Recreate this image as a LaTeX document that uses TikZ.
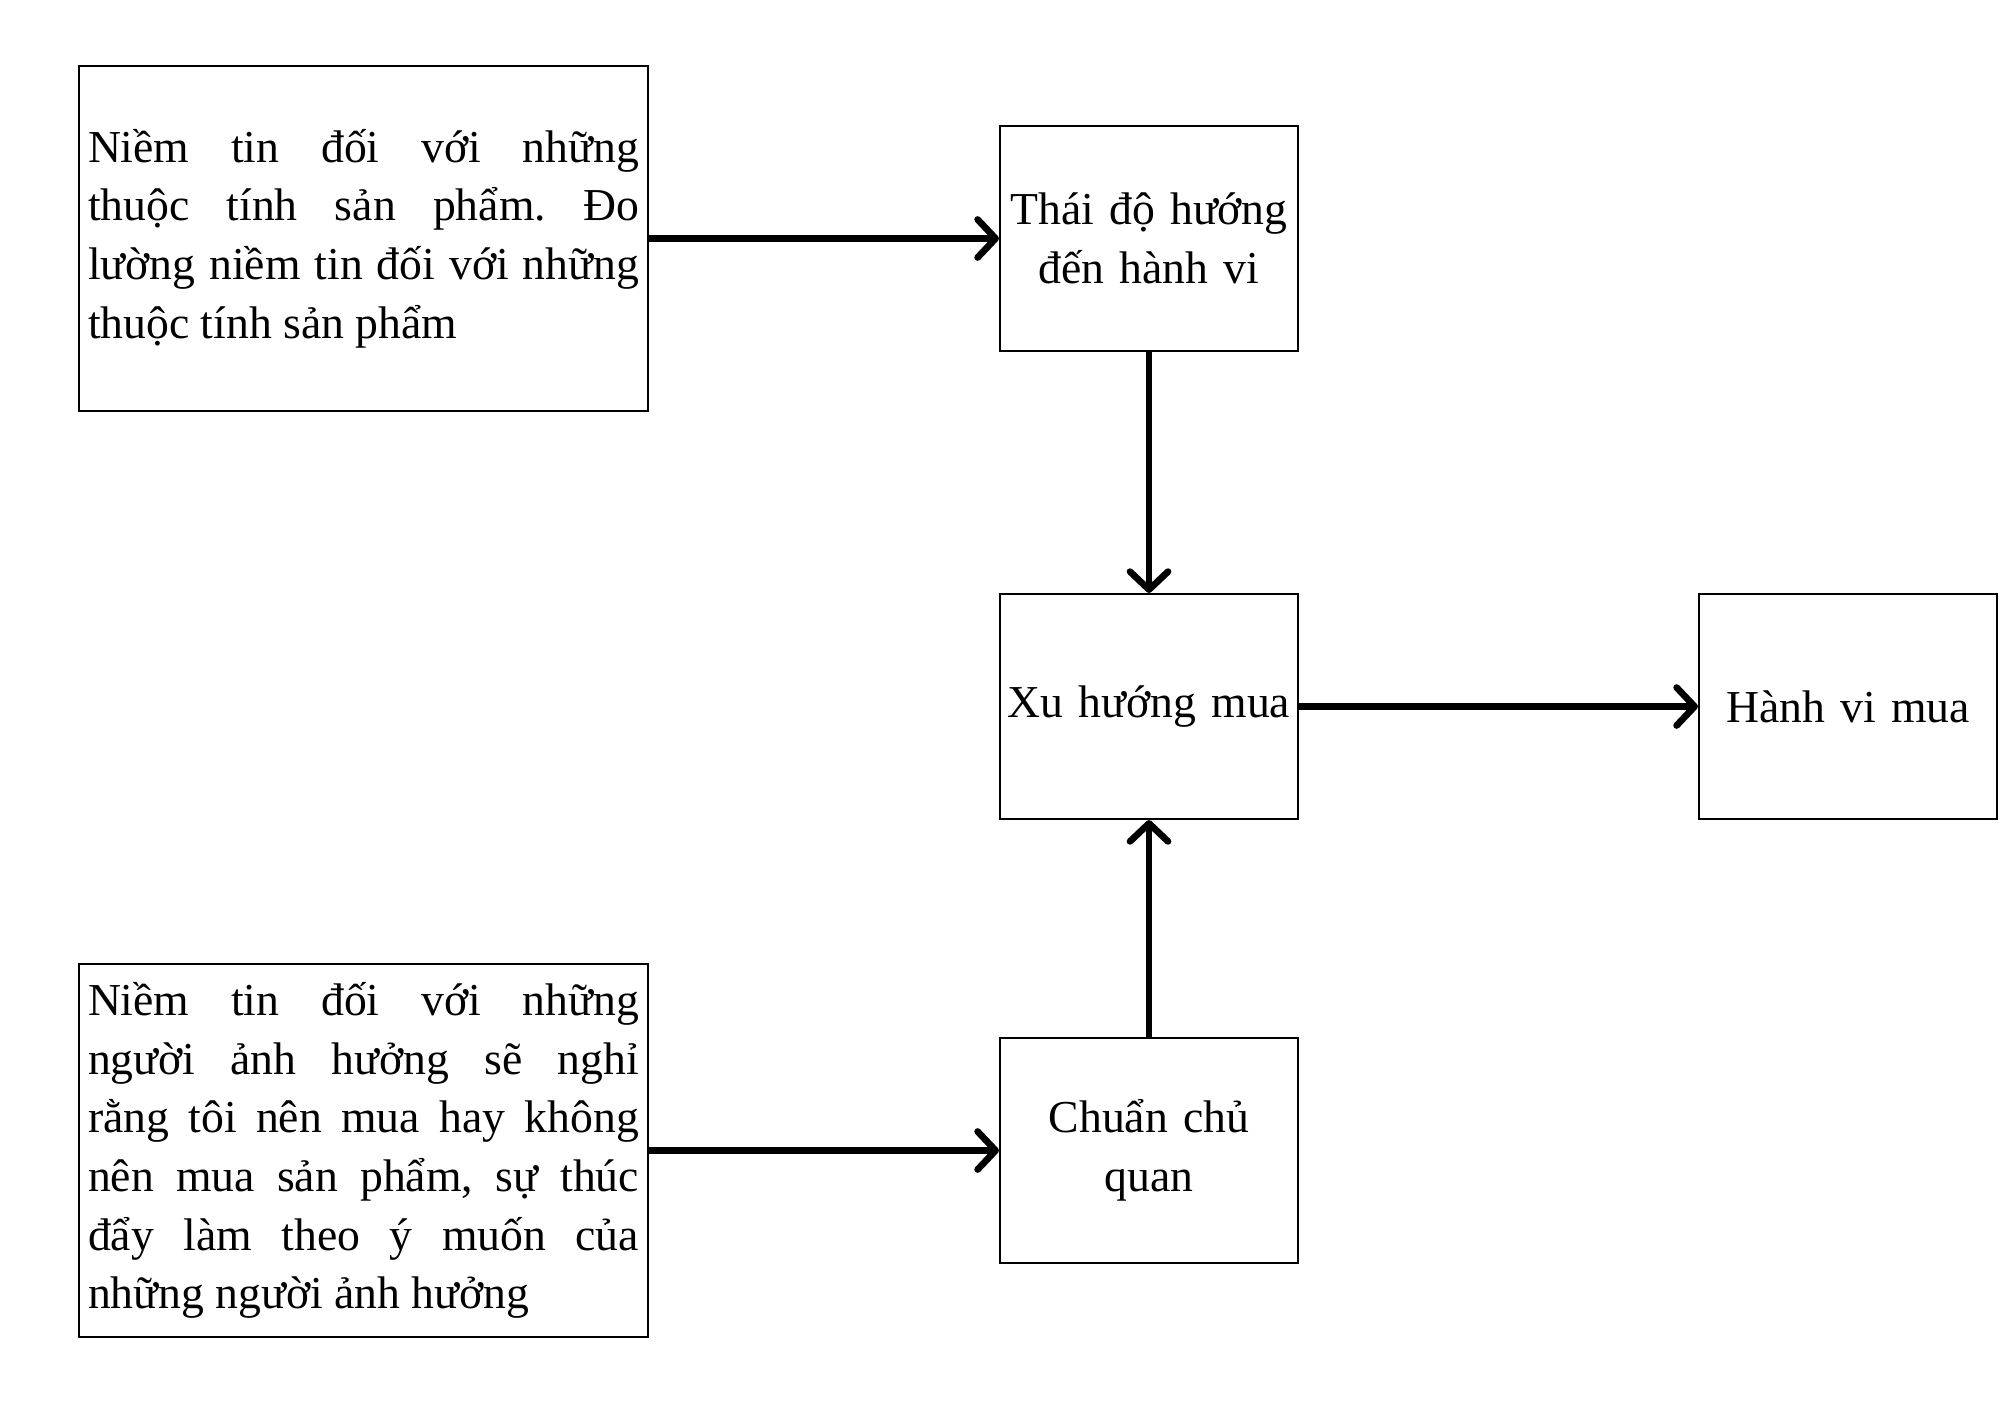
\documentclass[tikz,border=0pt]{standalone}
\usepackage{fontspec}
\setmainfont{Liberation Serif}
\usepackage{tikz}
\usetikzlibrary{arrows.meta,positioning}

\begin{document}
\frenchspacing
\tolerance=9999
\hyphenpenalty=10000
\begin{tikzpicture}[
  every node/.style={font=\fontsize{13}{16.7}\selectfont},
  box/.style={draw,line width=0.6pt,inner xsep=0.9mm,inner ysep=0pt},
  bigbox/.style={box,text width=55.1mm,align=justify},
  smallbox/.style={box,inner xsep=0pt,text width=29.8mm,align=center,minimum height=22.5mm},
  link/.style={-{Straight Barb[length=1.8mm,width=3.8mm,round]},line width=1.9pt}
]
  \useasboundingbox (0,0) rectangle (20,-14.14);

  % left column
  \node[bigbox,minimum height=34.5mm] (belief) at (3.635,-2.385)
    {Niềm tin đối với những\linebreak thuộc tính sản phẩm. Đo\linebreak
     lường niềm tin đối với những\linebreak thuộc tính sản phẩm};
  \node[bigbox,minimum height=37.3mm] (norm) at (3.635,-11.505)
    {Niềm tin đối với những\linebreak người ảnh hưởng sẽ nghỉ\linebreak
     rằng tôi nên mua hay không\linebreak nên mua sản phẩm, sự thúc\linebreak
     đẩy làm theo ý muốn của\linebreak những người ảnh hưởng};

  % middle column
  \node[smallbox] (attitude) at (11.49,-2.385) {Thái độ hướng\\đến hành vi};
  \node[smallbox] (intent) at (11.49,-7.065) {Xu hướng mua};
  \node[smallbox] (subjective) at (11.49,-11.505) {Chuẩn chủ\\quan};

  % right
  \node[smallbox] (behaviour) at (18.48,-7.065) {Hành vi mua};

  \draw[link] (belief) -- (attitude);
  \draw[link] (norm) -- (subjective);
  \draw[link] (attitude) -- (intent);
  \draw[link] (subjective) -- (intent);
  \draw[link] (intent) -- (behaviour);
\end{tikzpicture}
\end{document}
